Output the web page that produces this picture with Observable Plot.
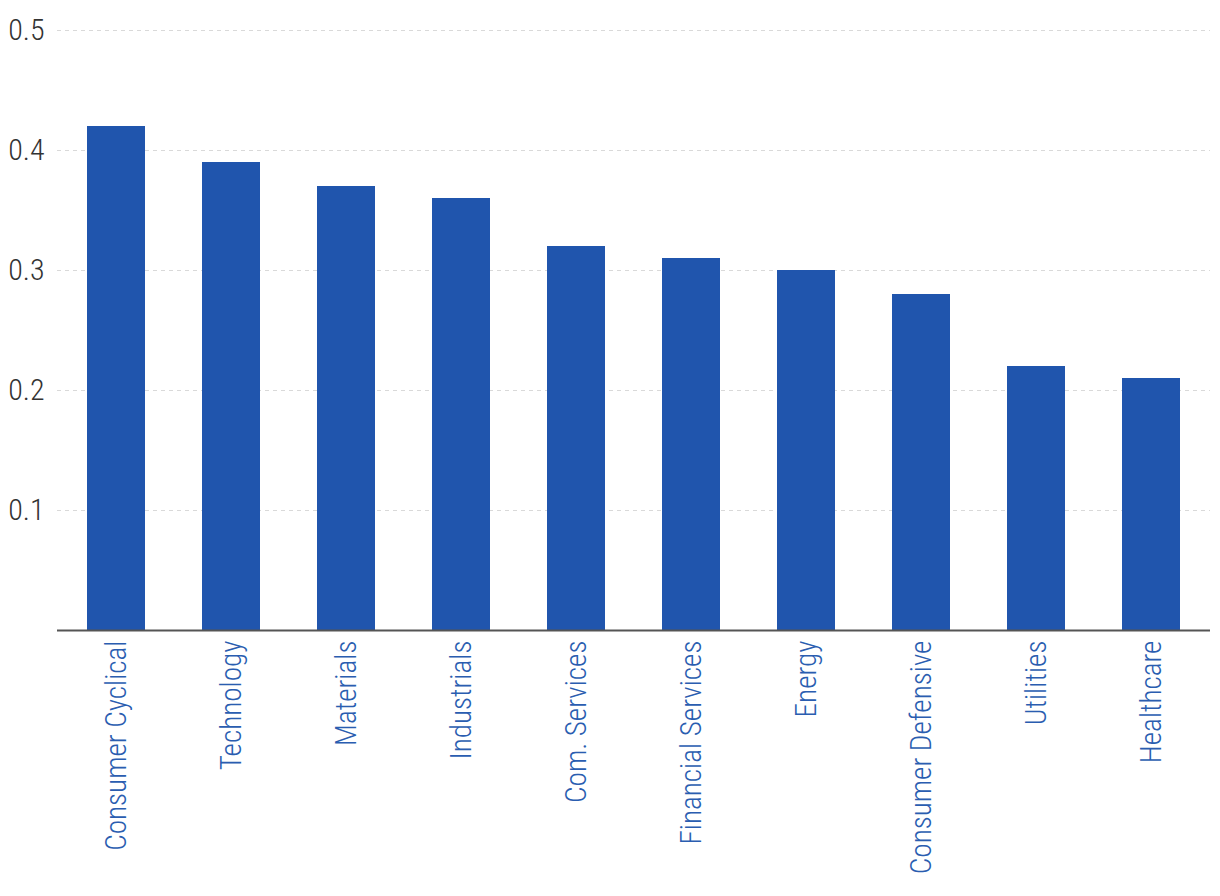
<!DOCTYPE html>
<html>
<head>
<meta charset="utf-8">
<script src="https://cdn.jsdelivr.net/npm/d3@7"></script>
<script src="https://cdn.jsdelivr.net/npm/@observablehq/plot@0.6"></script>
<style>
  html, body { margin: 0; padding: 0; background: #fff; }
  #chart svg { display: block; }
</style>
</head>
<body>
<div id="chart"></div>
<script>
const sectors = ["Consumer Cyclical", "Technology", "Materials", "Industrials", "Com. Services",
  "Financial Services", "Energy", "Consumer Defensive", "Utilities", "Healthcare"];
const values = [0.42, 0.39, 0.37, 0.36, 0.32, 0.31, 0.30, 0.28, 0.22, 0.21];
const yTicks = [0.1, 0.2, 0.3, 0.4, 0.5];

const data = sectors.map((s, i) => ({sector: s, value: values[i]}));
const FONT = "'Roboto Condensed', 'DejaVu Sans Condensed', 'Liberation Sans Narrow', Roboto, sans-serif";

const chart = Plot.plot({
  width: 1220,
  height: 896,
  marginLeft: 57,
  marginRight: 10,
  marginTop: 30,
  marginBottom: 266,
  style: {fontFamily: FONT, fontStretch: "condensed", fontWeight: 300, background: "#fff"},
  x: {domain: sectors, paddingInner: 0.5, paddingOuter: 0.25, label: null},
  y: {domain: [0, 0.5], label: null},
  marks: [
    Plot.gridY(yTicks, {stroke: "#d9d9d9", strokeOpacity: 1, strokeDasharray: "4,4", strokeWidth: 1}),
    Plot.barY(data, {x: "sector", y: "value", fill: "#2055ad"}),
    Plot.ruleY([0], {stroke: "#555", strokeWidth: 2}),
    Plot.axisY(yTicks, {tickSize: 0, tickPadding: 13, fontSize: 30, fill: "#333", label: null, tickFormat: d3.format(".1f")}),
    Plot.axisX({tickSize: 0, tickPadding: 10, tickRotate: -90, fontSize: 29.2, fill: "#2a5db0", label: null})
  ]
});
document.getElementById("chart").appendChild(chart);
</script>
</body>
</html>
